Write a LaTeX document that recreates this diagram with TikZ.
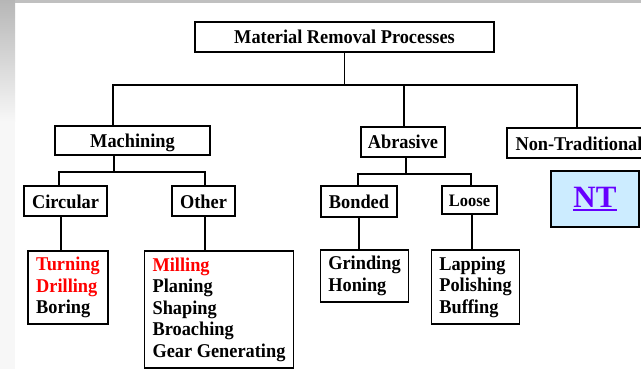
\documentclass[tikz,border=0pt]{standalone}
\usepackage{fontspec}
\setmainfont{Liberation Serif}[FakeStretch=0.94]
\newfontfamily\ntfamily{Liberation Serif}
\definecolor{ntblue}{HTML}{CCECFF}
\definecolor{ntviolet}{HTML}{6600FF}
\definecolor{stripgray}{HTML}{C0C0C0}
\definecolor{hotred}{HTML}{FF0000}
\newcommand\boxfnt{\bfseries\fontsize{19.5}{21.5}\selectfont}
\newcommand\ntunder[1]{{\setbox0\hbox{#1}\rlap{\copy0}\rule[-3.5pt]{\wd0}{2pt}}}
\begin{document}
\begin{tikzpicture}[x=1pt,y=-1pt,
  box/.style={draw, line width=1.2pt, inner sep=0pt, font=\boxfnt, text=black},
  onebox/.style={box, text height=14pt, text depth=0pt},
  listbox/.style={box, align=left, inner xsep=8pt, inner ysep=0pt},
  conn/.style={line width=1.2pt}]
\useasboundingbox (0,0) rectangle (641,369);
\clip (0,0) rectangle (641,369);
% background
\fill[white] (0,0) rectangle (641,369);
\shade[top color=stripgray!95!black, bottom color=white!97!black] (0,0) rectangle (15,122);
\fill[white!97!black] (0,122) rectangle (15,369);
\fill[stripgray] (15,0) rectangle (641,3);
% nodes
\node[onebox, minimum width=299pt, minimum height=30pt] (top) at (344.5,37) {Material Removal Processes};
\node[onebox, minimum width=155pt, minimum height=29pt] (mach) at (132.5,140.5) {Machining};
\node[onebox, minimum width=84pt, minimum height=30pt] (abr) at (403,142) {Abrasive};
\node[onebox, minimum width=144pt, minimum height=30pt] (nontrad) at (579,143) {Non-Traditional};
\node[box, fill=ntblue, minimum width=88pt, minimum height=56pt,
      font=\ntfamily\bfseries\fontsize{31}{31}\selectfont, text=ntviolet] (nt) at (595,199) {\ntunder{NT}};
\node[onebox, minimum width=83pt, minimum height=30pt] (circ) at (65.5,201) {Circular};
\node[onebox, minimum width=63pt, minimum height=30pt] (oth) at (203.5,201) {Other};
\node[onebox, minimum width=76pt, minimum height=31pt] (bond) at (359,201.5) {Bonded};
\node[onebox, minimum width=55pt, minimum height=28pt, text height=13pt, font=\bfseries\fontsize{17.5}{20}\selectfont] (loose) at (469.5,200) {Loose};
\node[listbox, minimum width=80pt, minimum height=73pt] (turn) at (68,287.5)
  {\textcolor{hotred}{Turning}\\\textcolor{hotred}{Drilling}\\Boring};
\node[listbox, minimum width=148pt, minimum height=117pt] (othl) at (219,309.5)
  {\textcolor{hotred}{Milling}\\Planing\\Shaping\\Broaching\\Gear Generating};
\node[listbox, minimum width=87pt, minimum height=52pt] (grind) at (364.5,276)
  {Grinding\\Honing};
\node[listbox, minimum width=87pt, minimum height=74pt] (lap) at (475.5,287)
  {Lapping\\Polishing\\Buffing};
% bus coordinates
\coordinate (b1) at (0,85);
\coordinate (b2) at (0,172);
\coordinate (b3) at (0,174);
% connectors
\draw[conn] (top.south) -- (top.south |- b1);
\draw[conn] ([xshift=-19.5pt]mach.north) |- ([xshift=-2pt]nontrad.north |- b1) -- ([xshift=-2pt]nontrad.north);
\draw[conn] ([xshift=1pt]abr.north) -- ([xshift=1pt]abr.north |- b1);
\draw[conn] ([xshift=-18.5pt]mach.south) -- ([xshift=-18.5pt]mach.south |- b2);
\draw[conn] ([xshift=-6.5pt]circ.north) |- ([xshift=1.5pt]oth.north |- b2) -- ([xshift=1.5pt]oth.north);
\draw[conn] ([xshift=-4.5pt]circ.south) -- ([xshift=-4.5pt]circ.south |- turn.north);
\draw[conn] ([xshift=1.5pt]oth.south) -- ([xshift=1.5pt]oth.south |- othl.north);
\draw[conn] ([xshift=3pt]abr.south) -- ([xshift=3pt]abr.south |- b3);
\draw[conn] ([xshift=-1pt]bond.north) |- ([xshift=1.5pt]loose.north |- b3) -- ([xshift=1.5pt]loose.north);
\draw[conn] (bond.south) -- (bond.south |- grind.north);
\draw[conn] ([xshift=2.5pt]loose.south) -- ([xshift=2.5pt]loose.south |- lap.north);
\end{tikzpicture}
\end{document}
